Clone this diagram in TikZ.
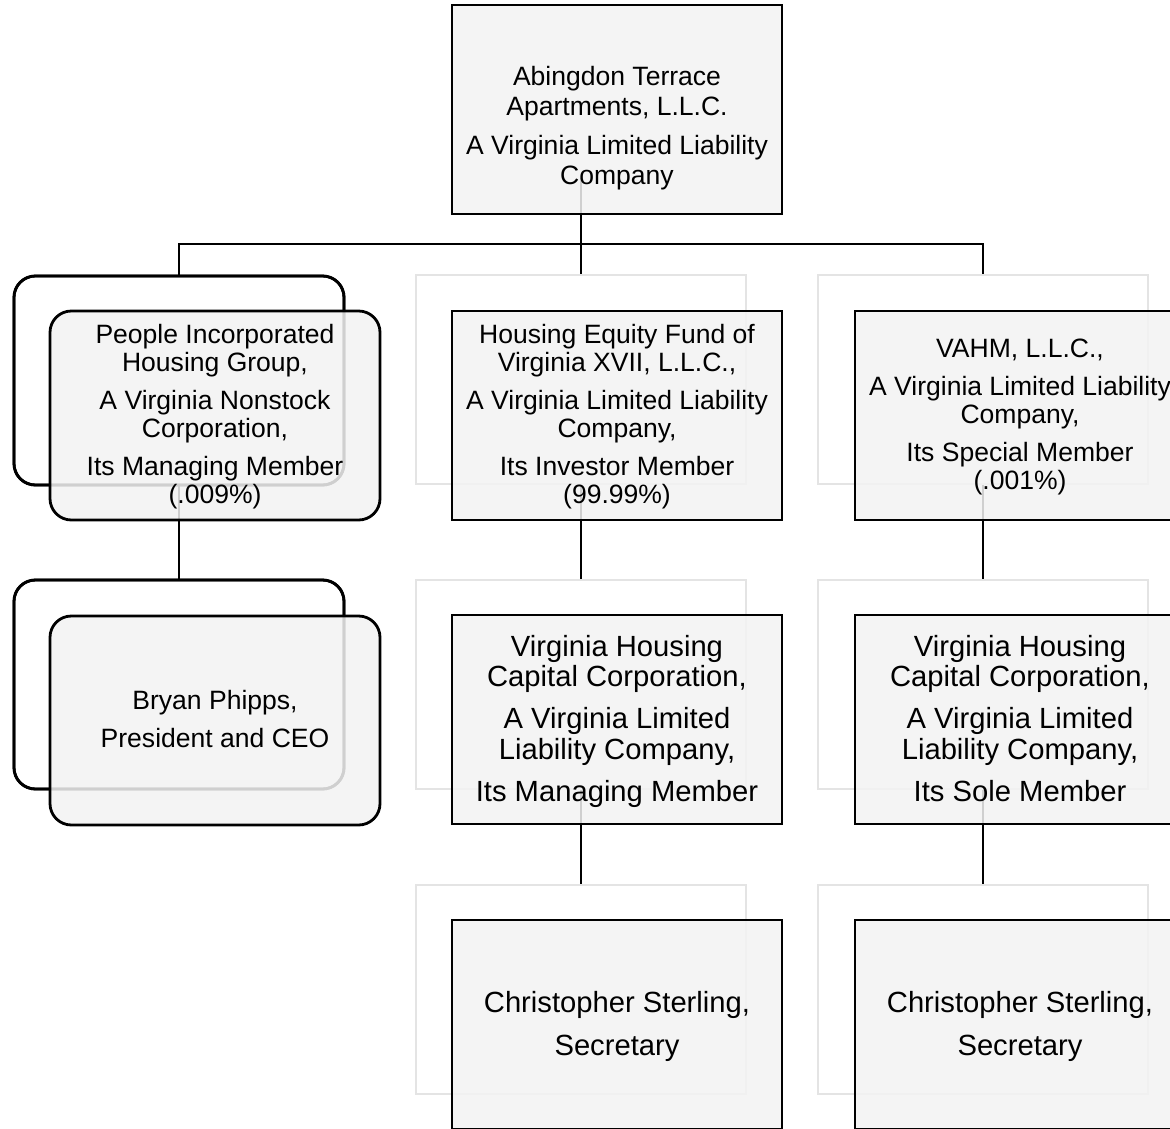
\documentclass[tikz,border=0pt]{standalone}
\usepackage{fontspec}
\setmainfont{Liberation Sans}
\definecolor{boxfill}{HTML}{F2F2F2}
\definecolor{shadowline}{HTML}{E4E4E4}
\begin{document}
\begin{tikzpicture}[x=0.75pt,y=-0.75pt,
  frontbox/.style={draw=black, line width=2.1pt, fill=boxfill, fill opacity=0.86,
    minimum width=247.5pt, minimum height=156.75pt, inner sep=0pt, outer sep=0pt, anchor=north west},
  roundfront/.style={frontbox, rounded corners=16pt},
  backbox/.style={draw=shadowline, line width=2.1pt,
    minimum width=247.5pt, minimum height=156.75pt, inner sep=0pt, outer sep=0pt, anchor=north west},
  roundback/.style={backbox, draw=black, rounded corners=16pt},
  hiddenbox/.style={backbox, draw=none},
  conn/.style={draw=black, line width=2.1pt},
  txt/.style={align=center, inner sep=0pt, outer sep=0pt, anchor=north, text=black},
  toptxt/.style={txt, font=\fontsize{19.9pt}{22.5pt}\selectfont},
  smalltxt/.style={txt, font=\fontsize{19.9pt}{21pt}\selectfont},
  largetxt/.style={txt, font=\fontsize{21.9pt}{22.9pt}\selectfont}
]
\useasboundingbox (0,0) rectangle (1170,1128);
\clip (0,0) rectangle (1170,1128);

% shadow (back) boxes used as connector anchors
\node[hiddenbox] (topback) at (416,-31) {};
\node[roundback] (peopleback) at (14,276) {};
\node[backbox] (hefback) at (416,275) {};
\node[backbox] (vahmback) at (818,275) {};
\node[roundback] (bryanback) at (14,580) {};
\node[backbox] (vhccback) at (416,580) {};
\node[backbox] (vhccrback) at (818,580) {};
\node[backbox] (chrisback) at (416,885) {};
\node[backbox] (chrisrback) at (818,885) {};

% connectors
\coordinate (bus) at (580,244);
\draw[conn] (topback.south) -- (hefback.north);
\draw[conn] (peopleback.north) |- (bus) -| (vahmback.north);
\draw[conn] (peopleback.south) -- (bryanback.north);
\draw[conn] (hefback.south) -- (vhccback.north);
\draw[conn] (vahmback.south) -- (vhccrback.north);
\draw[conn] (vhccback.south) -- (chrisback.north);
\draw[conn] (vhccrback.south) -- (chrisrback.north);

% redraw back boxes over connectors
\node[roundback] at (14,276) {};
\node[backbox] at (416,275) {};
\node[backbox] at (818,275) {};
\node[roundback] at (14,580) {};
\node[backbox] at (416,580) {};
\node[backbox] at (818,580) {};
\node[backbox] at (416,885) {};
\node[backbox] at (818,885) {};

% front boxes
\node[frontbox] (top) at (452,5) {};
\node[roundfront] (people) at (50,311) {};
\node[frontbox] (hef) at (452,311) {};
\node[frontbox] (vahm) at (855,311) {};
\node[roundfront] (bryan) at (50,616) {};
\node[frontbox] (vhcc) at (452,615) {};
\node[frontbox] (vhccr) at (855,615) {};
\node[frontbox] (chris) at (452,920) {};
\node[frontbox] (chrisr) at (855,920) {};

% texts
\node[toptxt] (toptext) at (617,61) {\rule{0pt}{18pt}Abingdon Terrace\\Apartments, L.L.C.\\[6.75pt]A Virginia Limited Liability\\Company};
\node[smalltxt] (peopletext) at (215,319) {\rule{0pt}{18pt}People Incorporated\\Housing Group,\\[7.5pt]A Virginia Nonstock\\Corporation,\\[7.5pt]Its Managing Member\\(.009\%)};
\node[smalltxt] (heftext) at (617,319) {\rule{0pt}{18pt}Housing Equity Fund of\\Virginia XVII, L.L.C.,\\[7.5pt]A Virginia Limited Liability\\Company,\\[7.5pt]Its Investor Member\\(99.99\%)};
\node[smalltxt] (vahmtext) at (1020,333) {\rule{0pt}{18pt}VAHM, L.L.C.,\\[7.5pt]A Virginia Limited Liability\\Company,\\[7.5pt]Its Special Member\\(.001\%)};
\node[smalltxt] (bryantext) at (215,685) {\rule{0pt}{18pt}Bryan Phipps,\\[7.5pt]President and CEO};
\node[largetxt] (vhcctext) at (617,632) {\rule{0pt}{18pt}Virginia Housing\\Capital Corporation,\\[8.6pt]A Virginia Limited\\Liability Company,\\[8.6pt]Its Managing Member};
\node[largetxt] (vhccrtext) at (1020,632) {\rule{0pt}{18pt}Virginia Housing\\Capital Corporation,\\[8.6pt]A Virginia Limited\\Liability Company,\\[8.6pt]Its Sole Member};
\node[largetxt] (christext) at (617,988) {\rule{0pt}{18pt}Christopher Sterling,\\[9.35pt]Secretary};
\node[largetxt] (chrisrtext) at (1020,988) {\rule{0pt}{18pt}Christopher Sterling,\\[9.35pt]Secretary};
\end{tikzpicture}
\end{document}
